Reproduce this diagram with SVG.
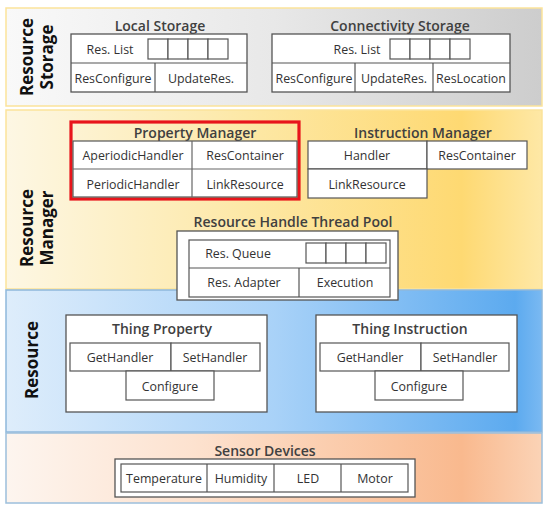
<svg xmlns="http://www.w3.org/2000/svg" width="550" height="512" viewBox="0 0 550 512">
<defs>
<linearGradient id="gStorage" x1="0" y1="0" x2="1" y2="0">
<stop offset="0" stop-color="#f9f9f9"/><stop offset="0.5" stop-color="#e8e8e8"/><stop offset="1" stop-color="#cdcdcd"/>
</linearGradient>
<linearGradient id="gManager" x1="0" y1="0" x2="1" y2="0">
<stop offset="0" stop-color="#fdf7e4"/><stop offset="0.45" stop-color="#fde8a6"/><stop offset="0.85" stop-color="#fed972"/><stop offset="1" stop-color="#fee8a6"/>
</linearGradient>
<linearGradient id="gResource" x1="0" y1="0" x2="1" y2="0">
<stop offset="0" stop-color="#deedfb"/><stop offset="0.5" stop-color="#a9d2f8"/><stop offset="0.95" stop-color="#5caaef"/><stop offset="1" stop-color="#7ab9f2"/>
</linearGradient>
<linearGradient id="gSensor" x1="0" y1="0" x2="1" y2="0">
<stop offset="0" stop-color="#fdf5ef"/><stop offset="0.35" stop-color="#fde2cf"/><stop offset="0.85" stop-color="#f9b98e"/><stop offset="1" stop-color="#fbd3b6"/>
</linearGradient>
</defs>
<style>
.band{stroke-width:1.5}
.box{fill:#ffffff;stroke:#555555;stroke-width:1.3}
.cell{fill:#ffffff;stroke:#555555;stroke-width:1.2}
.t{font-family:"Open Sans","Noto Sans",sans-serif;font-size:12.4px;fill:#333333;text-anchor:middle;dominant-baseline:central}
.h{font-family:"Open Sans","Noto Sans",sans-serif;font-size:14px;font-weight:600;fill:#404040;text-anchor:middle;dominant-baseline:central}
.v{font-family:"Open Sans","Noto Sans",sans-serif;font-size:17px;font-weight:700;fill:#111111;text-anchor:middle;dominant-baseline:central}
</style>

<g id="band-storage">
<rect class="band" x="6" y="8" width="536" height="98" fill="url(#gStorage)" stroke="#fbe39a"/>
<text class="v" transform="translate(26,57) rotate(-90)">Resource</text>
<text class="v" transform="translate(46,57) rotate(-90)">Storage</text>
</g>
<g id="band-manager">
<rect class="band" x="6" y="110" width="536" height="179" fill="url(#gManager)" stroke="#fbe39a"/>
<text class="v" transform="translate(26,228) rotate(-90)">Resource</text>
<text class="v" transform="translate(46,228) rotate(-90)">Manager</text>
</g>
<g id="band-resource">
<rect class="band" x="6" y="290" width="536" height="142" fill="url(#gResource)" stroke="#8fb8dc"/>
<text class="v" transform="translate(31,360) rotate(-90)">Resource</text>
</g>
<g id="band-sensor">
<rect class="band" x="6" y="433" width="536" height="70" fill="url(#gSensor)" stroke="#9cbfdc"/>
</g>

<g id="local-storage">
<text class="h" x="160" y="25">Local Storage</text>
<rect class="box" x="71" y="34" width="176" height="58"/>
<line x1="71" y1="63" x2="247" y2="63" stroke="#555" stroke-width="1.2"/>
<line x1="155" y1="63" x2="155" y2="92" stroke="#555" stroke-width="1.2"/>
<text class="t" x="110" y="49">Res. List</text>
<rect class="cell" x="148" y="39" width="20" height="20"/><rect class="cell" x="168" y="39" width="20" height="20"/><rect class="cell" x="188" y="39" width="20" height="20"/><rect class="cell" x="208" y="39" width="20" height="20"/>
<text class="t" x="113" y="78">ResConfigure</text>
<text class="t" x="201" y="78">UpdateRes.</text>
</g>

<g id="connectivity-storage">
<text class="h" x="400" y="25">Connectivity Storage</text>
<rect class="box" x="272" y="34" width="238" height="58"/>
<line x1="272" y1="63" x2="510" y2="63" stroke="#555" stroke-width="1.2"/>
<line x1="355" y1="63" x2="355" y2="92" stroke="#555" stroke-width="1.2"/>
<line x1="433" y1="63" x2="433" y2="92" stroke="#555" stroke-width="1.2"/>
<text class="t" x="357" y="49">Res. List</text>
<rect class="cell" x="390" y="39" width="20" height="20"/><rect class="cell" x="410" y="39" width="20" height="20"/><rect class="cell" x="430" y="39" width="20" height="20"/><rect class="cell" x="450" y="39" width="20" height="20"/>
<text class="t" x="314" y="78">ResConfigure</text>
<text class="t" x="394" y="78">UpdateRes.</text>
<text class="t" x="471" y="78">ResLocation</text>
</g>

<g id="property-manager">
<rect x="71" y="122" width="228" height="77" fill="none" stroke="#e8141b" stroke-width="3.2"/>
<text class="h" x="195" y="132">Property Manager</text>
<rect class="cell" x="73" y="141" width="224" height="56" stroke="#777"/>
<line x1="73" y1="169" x2="297" y2="169" stroke="#666" stroke-width="1.2"/>
<line x1="192" y1="141" x2="192" y2="197" stroke="#666" stroke-width="1.2"/>
<text class="t" x="133" y="155">AperiodicHandler</text>
<text class="t" x="245" y="155">ResContainer</text>
<text class="t" x="133" y="184">PeriodicHandler</text>
<text class="t" x="245" y="184">LinkResource</text>
</g>

<g id="instruction-manager">
<text class="h" x="423" y="132">Instruction Manager</text>
<rect class="cell" x="308" y="141" width="119" height="28"/>
<rect class="cell" x="427" y="141" width="100" height="28"/>
<rect class="cell" x="308" y="169" width="119" height="29"/>
<text class="t" x="367" y="155">Handler</text>
<text class="t" x="477" y="155">ResContainer</text>
<text class="t" x="367" y="184">LinkResource</text>
</g>

<g id="thread-pool">
<text class="h" x="293" y="221">Resource Handle Thread Pool</text>
<rect class="box" x="177" y="231" width="221" height="69"/>
<rect class="cell" x="189" y="240" width="201" height="57"/>
<line x1="189" y1="268" x2="390" y2="268" stroke="#555" stroke-width="1.2"/>
<line x1="299" y1="268" x2="299" y2="297" stroke="#555" stroke-width="1.2"/>
<text class="t" x="238" y="253">Res. Queue</text>
<rect class="cell" x="306" y="243" width="20" height="20"/><rect class="cell" x="326" y="243" width="20" height="20"/><rect class="cell" x="346" y="243" width="20" height="20"/><rect class="cell" x="366" y="243" width="20" height="20"/>
<text class="t" x="244" y="282">Res. Adapter</text>
<text class="t" x="345" y="282">Execution</text>
</g>

<g id="thing-property">
<rect class="box" x="66" y="315" width="201" height="97"/>
<text class="h" x="162" y="328">Thing Property</text>
<rect class="cell" x="70" y="343" width="101" height="28"/>
<rect class="cell" x="171" y="343" width="89" height="28"/>
<rect class="cell" x="126" y="371" width="88" height="29"/>
<text class="t" x="120" y="357">GetHandler</text>
<text class="t" x="215" y="357">SetHandler</text>
<text class="t" x="170" y="386">Configure</text>
</g>

<g id="thing-instruction">
<rect class="box" x="316" y="315" width="201" height="97"/>
<text class="h" x="410" y="328">Thing Instruction</text>
<rect class="cell" x="320" y="343" width="101" height="28"/>
<rect class="cell" x="421" y="343" width="88" height="28"/>
<rect class="cell" x="375" y="371" width="88" height="29"/>
<text class="t" x="370" y="357">GetHandler</text>
<text class="t" x="465" y="357">SetHandler</text>
<text class="t" x="419" y="386">Configure</text>
</g>

<g id="sensor-devices">
<text class="h" x="265" y="450">Sensor Devices</text>
<rect class="box" x="115" y="459" width="300" height="38"/>
<rect class="cell" x="121" y="464" width="287" height="28"/>
<line x1="207" y1="464" x2="207" y2="492" stroke="#555" stroke-width="1.2"/>
<line x1="274" y1="464" x2="274" y2="492" stroke="#555" stroke-width="1.2"/>
<line x1="341" y1="464" x2="341" y2="492" stroke="#555" stroke-width="1.2"/>
<text class="t" x="164" y="478">Temperature</text>
<text class="t" x="241" y="478">Humidity</text>
<text class="t" x="308" y="478">LED</text>
<text class="t" x="375" y="478">Motor</text>
</g>

<g id="connectors"></g>
</svg>
